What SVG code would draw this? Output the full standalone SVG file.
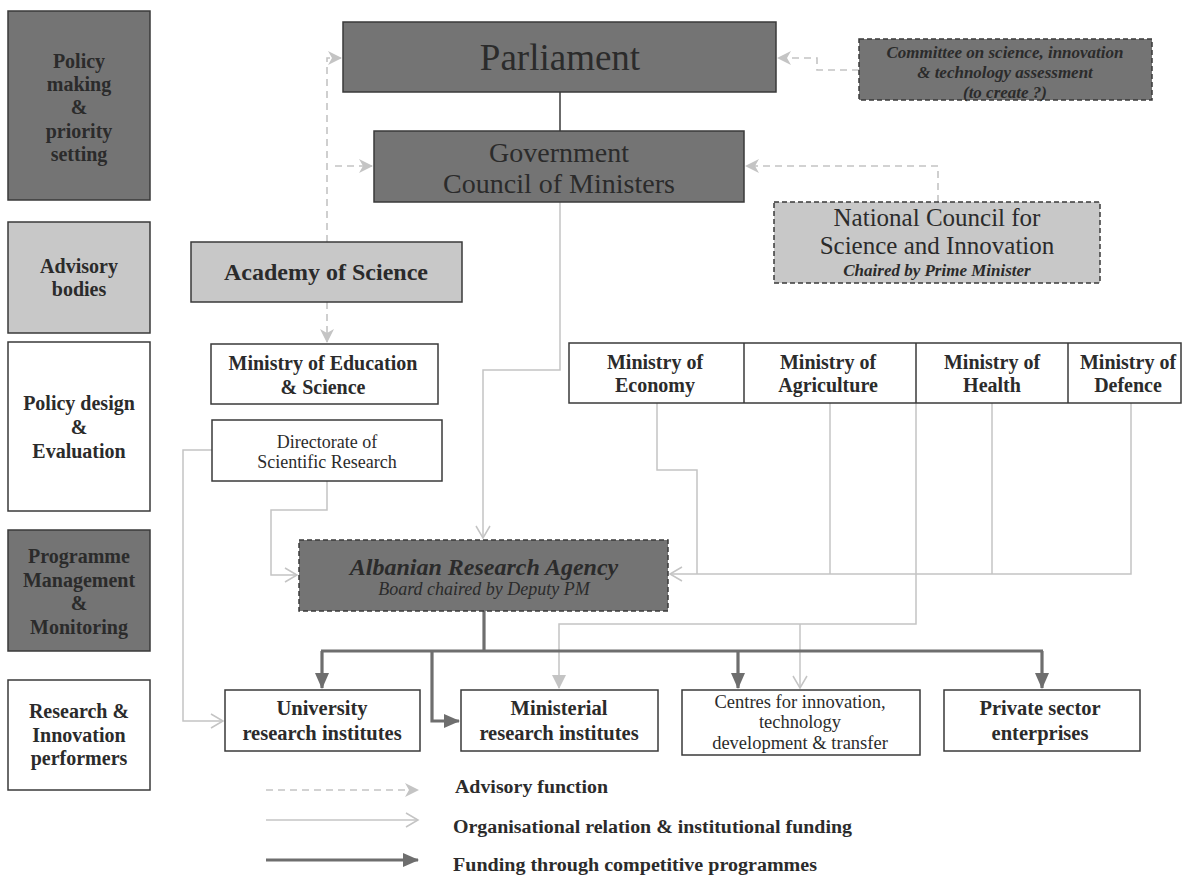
<svg xmlns="http://www.w3.org/2000/svg" width="1194" height="875" viewBox="0 0 1194 875">
<defs>
<style>
text{font-family:"Liberation Serif","Times New Roman",serif;fill:#2b2b2b;text-anchor:middle}
.b{font-weight:bold}
.i{font-style:italic}
.dark{fill:#747474;stroke:#3a3a3a;stroke-width:1.5}
.light{fill:#c8c8c8;stroke:#3a3a3a;stroke-width:1.5}
.white{fill:#ffffff;stroke:#3a3a3a;stroke-width:1.5}
.dash{stroke-dasharray:5,3}
.adv{fill:none;stroke:#c4c4c4;stroke-width:1.6;stroke-dasharray:7,5}
.org{fill:none;stroke:#c4c4c4;stroke-width:1.5}
.fund{fill:none;stroke:#6e6e6e;stroke-width:3.2}
.leg{text-anchor:start;font-weight:bold;font-size:18px}
</style>
<marker id="mAdv" markerUnits="userSpaceOnUse" markerWidth="16" markerHeight="16" refX="14" refY="8" orient="auto">
<path d="M1,1 L15,8 L1,15 L5,8 Z" fill="#c4c4c4"/>
</marker>
<marker id="mOrg" markerUnits="userSpaceOnUse" markerWidth="16" markerHeight="16" refX="14" refY="8" orient="auto">
<path d="M2,1 L14,8 L2,15" fill="none" stroke="#c4c4c4" stroke-width="1.5"/>
</marker>
<marker id="mOrgF" markerUnits="userSpaceOnUse" markerWidth="16" markerHeight="16" refX="14" refY="8" orient="auto">
<path d="M1,1 L15,8 L1,15 Z" fill="#c4c4c4"/>
</marker>
<marker id="mFund" markerUnits="userSpaceOnUse" markerWidth="18" markerHeight="18" refX="16" refY="9" orient="auto">
<path d="M1,2 L17,9 L1,16 Z" fill="#6e6e6e"/>
</marker>
</defs>

<g id="connectors">
<path class="adv" d="M327,242 V58 H341" marker-end="url(#mAdv)"/>
<path class="adv" d="M335,166 H372" marker-end="url(#mAdv)"/>
<path class="adv" d="M327,302 V342" marker-end="url(#mAdv)"/>
<path class="adv" d="M859,70 H817 V58 H778" marker-end="url(#mAdv)"/>
<path class="adv" d="M938,202 V166 H746" marker-end="url(#mAdv)"/>

<path class="org" d="M560,202 V370 H483 V538" marker-end="url(#mOrg)"/>
<path class="org" d="M212,450 H183 V721 H223" marker-end="url(#mOrg)"/>
<path class="org" d="M327,481 V510 H271 V575 H297" marker-end="url(#mOrg)"/>
<path class="org" d="M657,403 V470 H697 V574"/>
<path class="org" d="M830,403 V574"/>
<path class="org" d="M992,403 V574"/>
<path class="org" d="M1131,403 V574 H670" marker-end="url(#mOrg)"/>
<path class="org" d="M916,403 V624 H559 V688" marker-end="url(#mOrgF)"/>
<path class="org" d="M800,624 V688" marker-end="url(#mOrg)"/>

<path class="fund" d="M484,611 V651"/>
<path class="fund" d="M321,651 H1043"/>
<path class="fund" d="M322,651 V688" marker-end="url(#mFund)"/>
<path class="fund" d="M738,651 V688" marker-end="url(#mFund)"/>
<path class="fund" d="M1042,651 V688" marker-end="url(#mFund)"/>
<path class="fund" d="M432,651 V721 H459" marker-end="url(#mFund)"/>
<path d="M560,92 V131" stroke="#3a3a3a" stroke-width="1.5"/>
</g>

<g id="lane-policy-making">
<rect class="dark" x="8" y="11" width="142" height="189"/>
<text class="b" font-size="20"><tspan x="79" y="68">Policy</tspan><tspan x="79" y="91">making</tspan><tspan x="79" y="114">&amp;</tspan><tspan x="79" y="138">priority</tspan><tspan x="79" y="161">setting</tspan></text>
</g>
<g id="lane-advisory">
<rect class="light" x="8" y="222" width="142" height="111"/>
<text class="b" font-size="20"><tspan x="79" y="273">Advisory</tspan><tspan x="79" y="296">bodies</tspan></text>
</g>
<g id="lane-policy-design">
<rect class="white" x="8" y="342" width="142" height="169"/>
<text class="b" font-size="20"><tspan x="79" y="410">Policy design</tspan><tspan x="79" y="434">&amp;</tspan><tspan x="79" y="458">Evaluation</tspan></text>
</g>
<g id="lane-programme">
<rect class="dark" x="8" y="530" width="142" height="121"/>
<text class="b" font-size="20"><tspan x="79" y="563">Programme</tspan><tspan x="79" y="587">Management</tspan><tspan x="79" y="610">&amp;</tspan><tspan x="79" y="634">Monitoring</tspan></text>
</g>
<g id="lane-performers">
<rect class="white" x="8" y="680" width="142" height="110"/>
<text class="b" font-size="20"><tspan x="79" y="718">Research &amp;</tspan><tspan x="79" y="742">Innovation</tspan><tspan x="79" y="765">performers</tspan></text>
</g>

<g id="parliament">
<rect class="dark" x="343" y="22" width="433" height="70"/>
<text font-size="37" x="560" y="70">Parliament</text>
</g>
<g id="government">
<rect class="dark" x="374" y="131" width="370" height="71"/>
<text font-size="28"><tspan x="559" y="162">Government</tspan><tspan x="559" y="193">Council of Ministers</tspan></text>
</g>
<g id="committee">
<rect class="dark dash" x="859" y="39" width="293" height="61"/>
<text class="b i" font-size="17"><tspan x="1005" y="58">Committee on science, innovation</tspan><tspan x="1005" y="78">&amp; technology assessment</tspan><tspan x="1005" y="98">(to create ?)</tspan></text>
</g>
<g id="national-council">
<rect class="light dash" x="774" y="202" width="326" height="81"/>
<text font-size="25"><tspan x="937" y="226">National Council for</tspan><tspan x="937" y="254">Science and Innovation</tspan></text>
<text class="b i" font-size="17" x="937" y="276">Chaired by Prime Minister</text>
</g>
<g id="academy">
<rect class="light" x="191" y="242" width="271" height="60"/>
<text class="b" font-size="24" x="326" y="280">Academy of Science</text>
</g>
<g id="ministry-education">
<rect class="white" x="211" y="344" width="227" height="60"/>
<text class="b" font-size="20"><tspan x="323" y="370">Ministry of Education</tspan><tspan x="323" y="394">&amp; Science</tspan></text>
</g>
<g id="directorate">
<rect class="white" x="212" y="420" width="230" height="61"/>
<text font-size="18"><tspan x="327" y="448">Directorate of</tspan><tspan x="327" y="468">Scientific Research</tspan></text>
</g>
<g id="ministries">
<rect class="white" x="569" y="343" width="612" height="60"/>
<line x1="744" y1="343" x2="744" y2="403" stroke="#3a3a3a" stroke-width="1.5"/>
<line x1="916" y1="343" x2="916" y2="403" stroke="#3a3a3a" stroke-width="1.5"/>
<line x1="1068" y1="343" x2="1068" y2="403" stroke="#3a3a3a" stroke-width="1.5"/>
</g>
<g id="ministry-economy">
<text class="b" font-size="20"><tspan x="655" y="369">Ministry of</tspan><tspan x="655" y="392">Economy</tspan></text>
</g>
<g id="ministry-agriculture">
<text class="b" font-size="20"><tspan x="828" y="369">Ministry of</tspan><tspan x="828" y="392">Agriculture</tspan></text>
</g>
<g id="ministry-health">
<text class="b" font-size="20"><tspan x="992" y="369">Ministry of</tspan><tspan x="992" y="392">Health</tspan></text>
</g>
<g id="ministry-defence">
<text class="b" font-size="20"><tspan x="1128" y="369">Ministry of</tspan><tspan x="1128" y="392">Defence</tspan></text>
</g>
<g id="ara">
<rect class="dark dash" x="299" y="540" width="369" height="71"/>
<text class="b i" font-size="24" x="484" y="575">Albanian Research Agency</text>
<text class="i" font-size="18" x="484" y="595">Board chaired by Deputy PM</text>
</g>
<g id="university">
<rect class="white" x="225" y="690" width="195" height="61"/>
<text class="b" font-size="20.5"><tspan x="322" y="715">University</tspan><tspan x="322" y="740">research institutes</tspan></text>
</g>
<g id="ministerial">
<rect class="white" x="461" y="690" width="197" height="61"/>
<text class="b" font-size="20.5"><tspan x="559" y="715">Ministerial</tspan><tspan x="559" y="740">research institutes</tspan></text>
</g>
<g id="centres">
<rect class="white" x="682" y="690" width="238" height="65"/>
<text font-size="18.5"><tspan x="800" y="708">Centres for innovation,</tspan><tspan x="800" y="728">technology</tspan><tspan x="800" y="749">development &amp; transfer</tspan></text>
</g>
<g id="private">
<rect class="white" x="944" y="690" width="196" height="61"/>
<text class="b" font-size="20.5"><tspan x="1040" y="715">Private sector</tspan><tspan x="1040" y="740">enterprises</tspan></text>
</g>

<g id="legend">
<path class="adv" d="M266,790 H418" marker-end="url(#mAdv)"/>
<path class="org" d="M266,820 H418" marker-end="url(#mOrg)"/>
<path class="fund" d="M266,860 H418" marker-end="url(#mFund)"/>
<text class="leg" x="455" y="793" textLength="153" lengthAdjust="spacingAndGlyphs">Advisory function</text>
<text class="leg" x="453" y="833" textLength="399" lengthAdjust="spacingAndGlyphs">Organisational relation &amp; institutional funding</text>
<text class="leg" x="453" y="871" textLength="364" lengthAdjust="spacingAndGlyphs">Funding through competitive programmes</text>
</g>
</svg>
